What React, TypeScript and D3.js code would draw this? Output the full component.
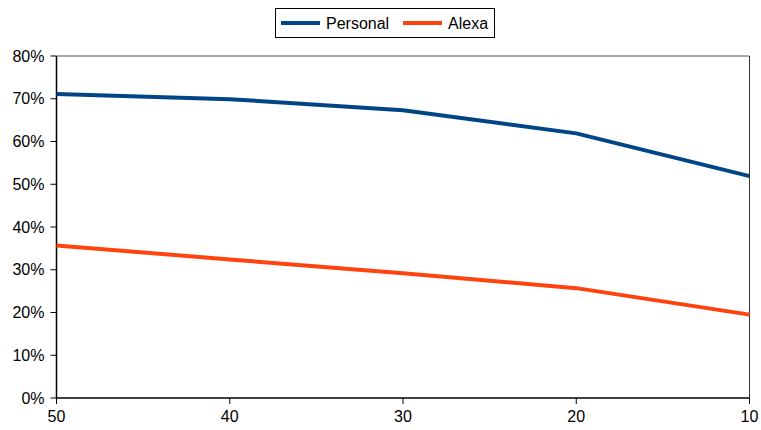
import React from "react";
import * as d3 from "d3";

const categories = [50, 40, 30, 20, 10];
const personal = [0.711, 0.699, 0.673, 0.619, 0.519];
const alexa = [0.357, 0.324, 0.292, 0.257, 0.195];
const yTicks = [0, 0.1, 0.2, 0.3, 0.4, 0.5, 0.6, 0.7, 0.8];
const seriesNames = ["Personal", "Alexa"];
const seriesColors = ["#004586", "#ff420e"];

export default function App() {
  const W = 761, H = 430;
  const left = 56.5, right = 749.5, top = 56, bottom = 398;
  const x = d3.scalePoint<number>().domain(categories).range([left, right]);
  const y = d3.scaleLinear().domain([0, 0.8]).range([bottom, top]);
  const line = d3.line<number>().x((_, i) => x(categories[i])!).y((d) => y(d));
  const series = [personal, alexa];
  const font = "'Liberation Sans', Arial, sans-serif";
  return (
    <svg width={W} height={H} style={{ position: "absolute", left: 0, top: 0 }} fontFamily={font}>
      <rect x={0} y={0} width={W} height={H} fill="#fff" />
      {/* frame */}
      <line x1={left} x2={right} y1={top} y2={top} stroke="#555" strokeWidth={1} />
      <line x1={right} x2={right} y1={top} y2={bottom} stroke="#333" strokeWidth={1} />
      {yTicks.map((t) => (
        <g key={t}>
          <line x1={left - 6} x2={left} y1={y(t)} y2={y(t)} stroke="#000" strokeWidth={1} />
          <text x={left - 12} y={y(t)} dy="0.35em" textAnchor="end" fontSize={16} fill="#000">
            {d3.format(".0%")(t)}
          </text>
        </g>
      ))}
      {categories.map((c) => (
        <g key={c}>
          <line x1={x(c)} x2={x(c)} y1={bottom} y2={bottom + 6} stroke="#000" strokeWidth={1} />
          <text x={x(c)} y={bottom + 24} textAnchor="middle" fontSize={16} fill="#000">
            {c}
          </text>
        </g>
      ))}
      <line x1={left} x2={left} y1={top} y2={bottom} stroke="#000" strokeWidth={1.5} />
      <line x1={left} x2={right} y1={bottom} y2={bottom} stroke="#000" strokeWidth={1.5} />
      {series.map((s, i) => (
        <path key={i} d={line(s)!} fill="none" stroke={seriesColors[i]} strokeWidth={4} strokeLinejoin="round" />
      ))}
      {/* legend */}
      <rect x={275.5} y={8.5} width={219} height={29} fill="#fff" stroke="#000" strokeWidth={1} />
      {seriesNames.map((n, i) => {
        const lx = [281, 403][i];
        return (
          <g key={n}>
            <line x1={lx} x2={lx + 39} y1={23} y2={23} stroke={seriesColors[i]} strokeWidth={4} />
            <text x={lx + 45} y={23} dy="0.35em" fontSize={16} fill="#000">{n}</text>
          </g>
        );
      })}
    </svg>
  );
}
